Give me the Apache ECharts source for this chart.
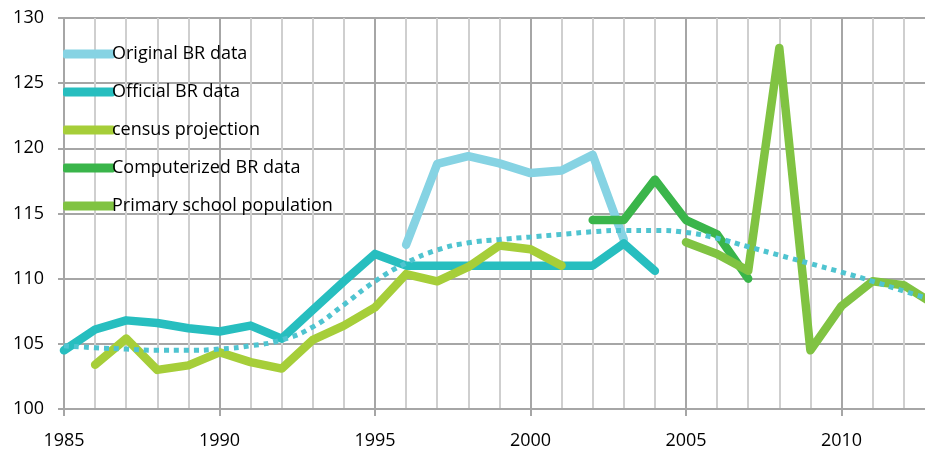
<!DOCTYPE html>
<html>
<head>
<meta charset="utf-8">
<script src="https://cdn.jsdelivr.net/npm/echarts@6/dist/echarts.min.js"></script>
<style>
  html, body { margin: 0; padding: 0; background: #fff; }
  #main { width: 925px; height: 453px; }
</style>
</head>
<body>
<div id="main"></div>
<script>
// years and values
var originalYears = [1996, 1997, 1998, 1999, 2000, 2001, 2002, 2003];
var originalVals  = [112.6, 118.8, 119.4, 118.85, 118.1, 118.3, 119.5, 113.0];

var officialYears = [1985, 1986, 1987, 1988, 1989, 1990, 1991, 1992, 1993, 1994, 1995, 1996, 1997, 1998, 1999, 2000, 2001, 2002, 2003, 2004];
var officialVals  = [104.5, 106.1, 106.8, 106.6, 106.2, 105.95, 106.4, 105.4, 107.6, 109.8, 111.9, 111.0, 111.0, 111.0, 111.0, 111.0, 111.0, 111.0, 112.7, 110.6];

var censusYears = [1986, 1987, 1988, 1989, 1990, 1991, 1992, 1993, 1994, 1995, 1996, 1997, 1998, 1999, 2000, 2001];
var censusVals  = [103.4, 105.4, 103.0, 103.35, 104.35, 103.6, 103.1, 105.3, 106.4, 107.8, 110.35, 109.8, 110.9, 112.55, 112.25, 111.0];

var computerYears = [2002, 2003, 2004, 2005, 2006, 2007];
var computerVals  = [114.5, 114.5, 117.6, 114.5, 113.4, 110.0];

var primaryYears = [2005, 2006, 2007, 2008, 2009, 2010, 2011, 2012, 2013];
var primaryVals  = [112.8, 111.9, 110.6, 127.7, 104.5, 107.9, 109.8, 109.5, 108.0];

var trendYears = [1985, 1986, 1987, 1988, 1989, 1990, 1991, 1992, 1993, 1994, 1995, 1996, 1997, 1998, 1999, 2000, 2001, 2002, 2003, 2004, 2005, 2006, 2007, 2008, 2009, 2010, 2011, 2012, 2013];
var trendVals  = [104.85, 104.7, 104.6, 104.5, 104.5, 104.6, 104.85, 105.3, 106.3, 108.0, 109.8, 111.2, 112.2, 112.75, 113.0, 113.2, 113.4, 113.6, 113.7, 113.7, 113.55, 113.1, 112.45, 111.8, 111.15, 110.5, 109.8, 109.05, 108.3];

var yTicks = [100, 105, 110, 115, 120, 125, 130];

function pairs(xs, ys) {
    var out = [];
    for (var i = 0; i < xs.length; i++) out.push([xs[i], ys[i]]);
    return out;
}

function thickLine(name, color, xs, ys) {
    return {
        name: name,
        type: 'line',
        data: pairs(xs, ys),
        showSymbol: false,
        symbol: 'none',
        itemStyle: { color: color },
        lineStyle: { color: color, width: 8.5, cap: 'round', join: 'round' },
        emphasis: { disabled: true },
        animation: false
    };
}

var myChart = echarts.init(document.getElementById('main'));

var font = '"Open Sans", Lato, sans-serif';

var option = {
    animation: false,
    grid: { left: 64, top: 18, width: 933, bottom: 44, outerBoundsMode: 'none', containLabel: false },
    legend: {
        orient: 'vertical',
        left: 58,
        top: 40,
        icon: 'roundRect',
        itemWidth: 52,
        itemHeight: 9,
        itemGap: 20,
        textStyle: { fontFamily: font, fontSize: 18, color: '#000', padding: [0, 0, 0, -8] },
        data: ['Original BR data', 'Official BR data', 'census projection', 'Computerized BR data', 'Primary school population']
    },
    xAxis: {
        type: 'value',
        min: 1985,
        max: 2015,
        interval: 5,
        axisLine: { show: true, lineStyle: { color: '#A6A6A6', width: 2 } },
        axisTick: { show: true, length: 7, lineStyle: { color: '#A6A6A6', width: 2 } },
        axisLabel: {
            fontFamily: font, fontSize: 18, color: '#000', margin: 23,
            formatter: function (v) { return String(v); }
        },
        splitLine: { show: true, lineStyle: { color: '#A6A6A6', width: 2 } },
        minorTick: { show: false, splitNumber: 5 },
        minorSplitLine: { show: true, lineStyle: { color: '#CFCFCF', width: 2 } }
    },
    yAxis: {
        type: 'value',
        min: yTicks[0],
        max: yTicks[yTicks.length - 1],
        interval: 5,
        axisLine: { show: true, lineStyle: { color: '#A6A6A6', width: 2 } },
        axisTick: { show: true, length: 6, lineStyle: { color: '#A6A6A6', width: 2 } },
        axisLabel: { fontFamily: font, fontSize: 18, color: '#000', margin: 20 },
        splitLine: { show: true, lineStyle: { color: '#A6A6A6', width: 2 } }
    },
    series: [
        thickLine('Original BR data', '#86D3E3', originalYears, originalVals),
        thickLine('Official BR data', '#27BEBF', officialYears, officialVals),
        thickLine('census projection', '#A6CE39', censusYears, censusVals),
        thickLine('Computerized BR data', '#3AB54A', computerYears, computerVals),
        thickLine('Primary school population', '#80C342', primaryYears, primaryVals),
        {
            name: 'trend',
            type: 'line',
            data: pairs(trendYears, trendVals),
            smooth: true,
            symbol: 'none',
            lineStyle: { color: '#4FC4D0', width: 5, type: [5, 5], cap: 'butt' },
            emphasis: { disabled: true },
            z: 3
        }
    ]
};

myChart.setOption(option);
</script>
</body>
</html>
